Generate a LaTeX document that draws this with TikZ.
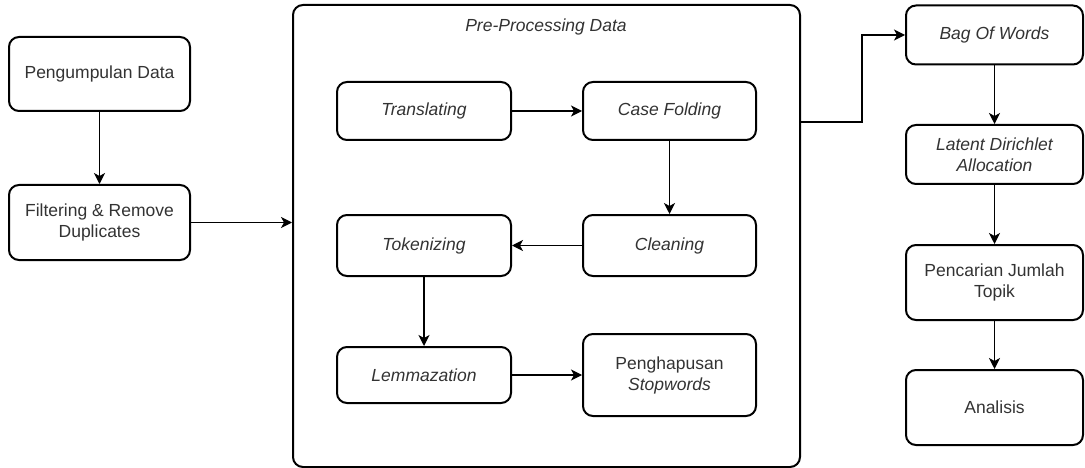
\documentclass[tikz,border=0pt]{standalone}
\usepackage{fontspec}
\setmainfont{Liberation Sans}
\usetikzlibrary{arrows.meta}
\definecolor{txt}{HTML}{333333}
\tikzset{
  box/.style={draw=black, line width=2pt, rounded corners=10pt, fill=white,
    align=center, text=txt, font=\fontsize{17.5}{21}\selectfont, inner sep=2pt},
  flow/.style={line width=1.3pt, -{Stealth[length=11pt,width=11pt,inset=3pt]}},
}
\begin{document}
\begin{tikzpicture}[x=1pt,y=-1pt]
  \useasboundingbox (0,0) rectangle (1085,468);

  % left column
  \node[box, minimum width=181pt, minimum height=74pt] (pd) at (99.5,74) {Pengumpulan Data};
  \node[box, minimum width=181pt, minimum height=75pt] (fd) at (99.5,222.5) {Filtering \& Remove\\Duplicates};

  % pre-processing container
  \node[box, minimum width=507pt, minimum height=462pt] (pre) at (546.5,236) {};
  \node[text=txt, font=\fontsize{17.5}{21}\selectfont\itshape] (pret) at (546,27) {Pre-Processing Data};

  \node[box, font=\fontsize{17.5}{21}\selectfont\itshape, minimum width=174pt, minimum height=58pt] (tr) at (424,111) {Translating};
  \node[box, font=\fontsize{17.5}{21}\selectfont\itshape, minimum width=173pt, minimum height=58pt] (cf) at (669.5,111) {Case Folding};
  \node[box, font=\fontsize{17.5}{21}\selectfont\itshape, minimum width=173pt, minimum height=61pt] (cl) at (669.5,245.5) {Cleaning};
  \node[box, font=\fontsize{17.5}{21}\selectfont\itshape, minimum width=174pt, minimum height=61pt] (tk) at (424,245.5) {Tokenizing};
  \node[box, font=\fontsize{17.5}{21}\selectfont\itshape, minimum width=174pt, minimum height=56pt] (lm) at (424,375) {Lemmazation};
  \node[box, minimum width=173pt, minimum height=82pt] (ph) at (669.5,375) {Penghapusan\\\textit{Stopwords}};

  % right column
  \node[box, font=\fontsize{17.5}{21}\selectfont\itshape, minimum width=177pt, minimum height=59pt] (bw) at (994.5,35) {Bag Of Words};
  \node[box, font=\fontsize{17.5}{21}\selectfont\itshape, minimum width=177pt, minimum height=59pt] (lda) at (994.5,154.5) {Latent Dirichlet\\Allocation};
  \node[box, minimum width=177pt, minimum height=75pt] (pj) at (994.5,282.5) {Pencarian Jumlah\\Topik};
  \node[box, minimum width=177pt, minimum height=75pt] (an) at (994.5,407.5) {Analisis};

  % connectors
  \draw[flow] (pd) -- (fd);
  \draw[flow] (fd.east) -- (fd.east -| pre.west);
  \draw[flow] (tr) -- (cf);
  \draw[flow] (cf) -- (cl);
  \draw[flow] (cl) -- (tk);
  \draw[flow] (tk) -- (lm);
  \draw[flow] (lm.east) -- (lm.east -| ph.west);
  \coordinate (out) at (800,122);
  \coordinate (bend) at (862,122);
  \draw[flow] (out) -- (bend) |- (bw.west);
  \draw[flow] (bw) -- (lda);
  \draw[flow] (lda) -- (pj);
  \draw[flow] (pj) -- (an);
\end{tikzpicture}
\end{document}
